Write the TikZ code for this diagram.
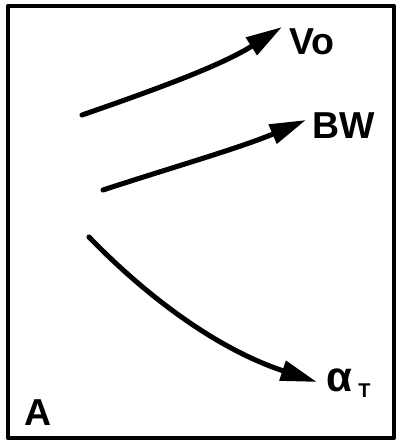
\documentclass[tikz,border=0pt]{standalone}
\usepackage{fontspec}
\setsansfont{Liberation Sans}
\usetikzlibrary{arrows.meta}
\begin{document}
\begin{tikzpicture}[x=0.03cm,y=-0.03cm,line cap=round,line join=round,
  flow/.style={line width=4.3pt,-{Triangle[length=31pt,width=17pt]}},
  lbl/.style={font=\sffamily\bfseries\fontsize{32}{34}\selectfont,inner sep=0pt}]
  \useasboundingbox (0,0) rectangle (397,443);
  \draw[line width=3.8pt] (8,6) rectangle (394,438);
  % starting points and tips
  \coordinate (s1) at (82,115);
  \coordinate (t1) at (282,27);
  \coordinate (s2) at (103,190);
  \coordinate (t2) at (306,120);
  \coordinate (s3) at (89,237);
  \coordinate (t3) at (317,382);
  % labels
  \node[lbl,anchor=west] (vo) at (289,42) {Vo};
  \node[lbl,anchor=west] (bw) at (312,126) {BW};
  \node[lbl,anchor=west] (al) at (326,383) {{\fontsize{36}{38}\selectfont α}\,\raisebox{-5pt}{\fontsize{17}{18}\selectfont T}};
  \node[lbl,anchor=west] (pa) at (24,413) {A};
  % arrows
  \draw[flow] (s1) .. controls (160,88) and (222,65) .. (t1);
  \draw[flow] (s2) .. controls (170,168) and (240,148) .. (t2);
  \draw[flow] (s3) .. controls (150,300) and (220,350) .. (t3);
\end{tikzpicture}
\end{document}
